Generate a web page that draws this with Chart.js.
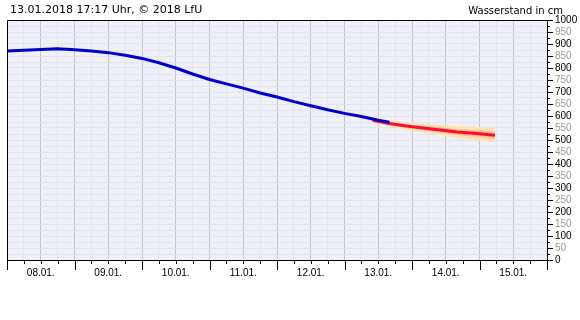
<!DOCTYPE html>
<html><head><meta charset="utf-8">
<script src="https://cdn.jsdelivr.net/npm/chart.js@4"></script>
<style>html,body{margin:0;padding:0;background:#fff}#wrap{width:580px;height:320px}</style>
</head><body><div id="wrap"><canvas id="c" width="580" height="320"></canvas></div>
<script>
// hours counted from 08.01.2018 00:00
const dayLabels = ['08.01.','09.01.','10.01.','11.01.','12.01.','13.01.','14.01.','15.01.'];
const measHours = [0,6,12,18,24,30,36,42,48,54,60,66,72,78,84,90,96,102,108,114,120,126,132,136];
const measLevel = [871,874,877,880,876,871,864,853,840,822,800,775,752,734,716,696,679,660,643,626,611,598,582,574];
const fcHours = [130,136,142,148,154,160,166,173.5];
const fcLevel = [582,569,558,550,542,533,528,520];
const outerHigh = [592,581,573,568,563,557,555,549];
const outerLow  = [572,557,543,532,521,509,501,490];
const innerHigh = [587,575,566,559,553,545,542,535];
const innerLow  = [577,563,550,541,531,521,514,505];
const titleText = '13.01.2018 17:17 Uhr, \u00A9 2018 LfU';
const unitText = 'Wasserstand in cm';

const pts = (xs, ys) => xs.map((x, i) => ({x, y: ys[i]}));

const frame = {
  id: 'frame',
  beforeDraw(chart) {
    const {ctx, chartArea: a} = chart;
    ctx.save();
    ctx.fillStyle = '#f0f0fb';
    ctx.fillRect(a.left, a.top, a.right - a.left, a.bottom - a.top);
    ctx.restore();
  },
  afterDraw(chart) {
    const {ctx, chartArea: a, scales: {x, y}} = chart;
    ctx.save();
    ctx.strokeStyle = '#000';
    ctx.lineWidth = 1;
    ctx.beginPath();
    ctx.rect(Math.round(a.left) + 0.5, Math.round(a.top) + 0.5, Math.round(a.right - a.left), Math.round(a.bottom - a.top));
    ctx.stroke();
    ctx.beginPath();
    for (let h = x.min; h <= x.max; h += 6) {
      const px = Math.round(x.getPixelForValue(h)) + 0.5;
      const len = h % 24 === 0 ? 10 : 4;
      ctx.moveTo(px, a.bottom);
      ctx.lineTo(px, a.bottom + len);
    }
    for (let v = y.min; v <= y.max; v += 25) {
      const py = Math.round(y.getPixelForValue(v)) + 0.5;
      const len = v % 50 === 0 ? 6 : 3;
      ctx.moveTo(a.right, py);
      ctx.lineTo(a.right + len, py);
    }
    ctx.stroke();
    ctx.fillStyle = '#000';
    ctx.textBaseline = 'middle';
    ctx.font = '11px "DejaVu Sans"';
    ctx.textAlign = 'left';
    ctx.fillText(titleText, 10, 10);
    ctx.font = '10px "DejaVu Sans"';
    ctx.textAlign = 'right';
    ctx.fillText(unitText, 563, 11);
    ctx.restore();
  }
};

const band = (data, fill, color, order) => ({data, fill, order, backgroundColor: color, borderWidth: 0, pointRadius: 0, borderColor: 'transparent'});

new Chart(document.getElementById('c'), {
  type: 'line',
  data: {
    datasets: [
      band(pts(fcHours, outerHigh), '+1', '#ffe2b0', 6),
      band(pts(fcHours, outerLow), false, '#ffe2b0', 5),
      band(pts(fcHours, innerHigh), '+1', '#ffc48c', 4),
      band(pts(fcHours, innerLow), false, '#ffc48c', 3),
      {data: pts(fcHours, fcLevel), order: 2, borderColor: '#ff0a36', borderWidth: 3, pointRadius: 0, fill: false},
      {data: pts(measHours, measLevel), order: 1, borderColor: '#0000cc', borderWidth: 3, pointRadius: 0, fill: false}
    ]
  },
  options: {
    responsive: false,
    animation: false,
    layout: {padding: {top: 20, left: 6, right: 0, bottom: 0}},
    plugins: {legend: {display: false}, tooltip: {enabled: false}},
    scales: {
      x: {
        type: 'linear', min: 0, max: 192,
        afterFit(s) { s.height = 60; },
        afterBuildTicks(s) {
          const t = [];
          for (let h = s.min; h <= s.max; h += 6) t.push({value: h});
          s.ticks = t;
        },
        grid: {
          drawTicks: false,
          color: c => (c.tick && c.tick.value % 12 === 0) ? '#c4c4cc' : '#e4e4ec'
        },
        border: {display: false},
        ticks: {
          autoSkip: false, maxRotation: 0, padding: 7,
          color: '#000', font: {family: 'Liberation Sans', size: 10},
          callback: v => v % 24 === 12 ? dayLabels[Math.floor(v / 24)] : ''
        }
      },
      y: {
        position: 'right', min: 0, max: 1000,
        afterFit(s) { s.width = 33; },
        afterBuildTicks(s) {
          const t = [];
          for (let v = s.min; v <= s.max; v += 25) t.push({value: v});
          s.ticks = t;
        },
        grid: {drawTicks: false, color: '#e4e4ec'},
        border: {display: false},
        ticks: {
          autoSkip: false, padding: 8,
          font: {family: 'Liberation Sans', size: 10},
          color: c => c.tick.value % 100 === 0 ? '#000' : '#999',
          callback: v => v % 50 === 0 ? String(v) : ''
        }
      }
    }
  },
  plugins: [frame]
});
</script></body></html>
